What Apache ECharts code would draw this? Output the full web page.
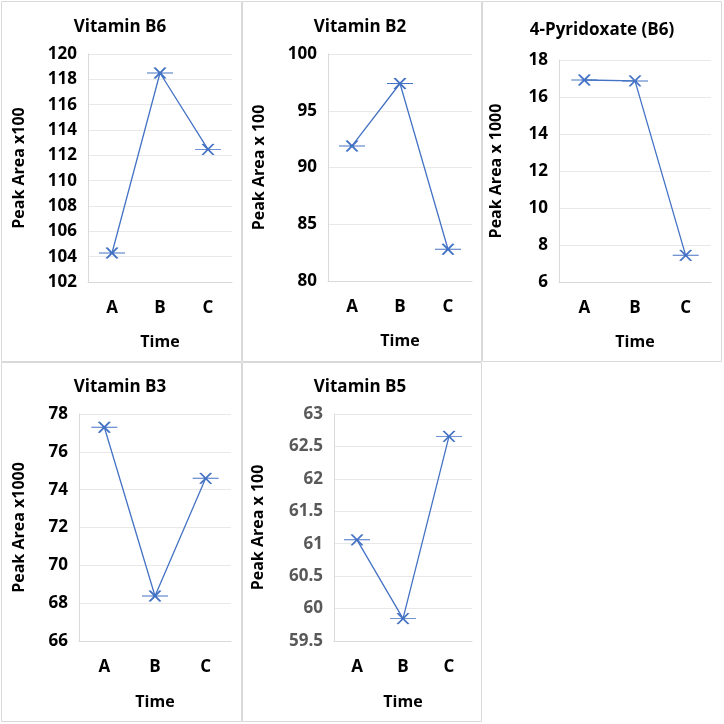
<!DOCTYPE html>
<html>
<head>
<meta charset="utf-8">
<script src="https://cdn.jsdelivr.net/npm/echarts@6/dist/echarts.min.js"></script>
<style>html,body{margin:0;padding:0;background:#fff}#c{width:724px;height:724px}</style>
</head>
<body>
<div id="c"></div>
<script>
const categories = ['A', 'B', 'C'];
const titles = ['Vitamin B6', 'Vitamin B2', '4-Pyridoxate (B6)', 'Vitamin B3', 'Vitamin B5'];
const yNames = ['Peak Area x100', 'Peak Area x 100', 'Peak Area x 1000', 'Peak Area x1000', 'Peak Area x 100'];
const xName = 'Time';
const vitB6 = [104.29, 118.5, 112.47];
const vitB2 = [91.9, 97.4, 82.8];
const pyridoxate = [16.92, 16.87, 7.44];
const vitB3 = [77.3, 68.38, 74.6];
const vitB5 = [61.06, 59.845, 62.655];
const yMin = [102, 80, 6, 66, 59.5];
const yMax = [120, 100, 18, 78, 63];
const yStep = [2, 5, 2, 2, 0.5];

const seriesData = [vitB6, vitB2, pyridoxate, vitB3, vitB5];

// layout
const grids = [
  {left: 88, top: 54, width: 144, height: 228},
  {left: 328, top: 54, width: 144, height: 227},
  {left: 559, top: 60, width: 152, height: 222},
  {left: 79, top: 414, width: 152, height: 227},
  {left: 334, top: 414, width: 138, height: 227}
];
const titlePos = [[120, 19], [360, 19], [602, 22], [120, 379], [360, 379]];
const yNameGap = [61, 61, 55, 52, 68];
const xNameGap = [52, 52, 52, 53, 53];
const tickColors = ['#000', '#000', '#000', '#000', '#595959'];
const borders = [
  [1.5, 1.5, 240, 360], [242.5, 1.5, 239, 360], [482.5, 1.5, 239, 360],
  [1.5, 362.5, 240, 359], [242.5, 362.5, 239, 359]
];

const FONT = '"Open Sans", sans-serif';
const blue = '#4472C4';
const markerPath = 'path://M0,5.5 L26,5.5 M7.5,0 L18.5,11 M7.5,11 L18.5,0';

const option = {
  backgroundColor: '#fff',
  animation: false,
  graphic: borders.map(b => ({
    type: 'rect', shape: {x: b[0], y: b[1], width: b[2], height: b[3]},
    style: {fill: 'none', stroke: '#d9d9d9', lineWidth: 1}, silent: true
  })),
  title: titles.map((t, i) => ({
    text: t, left: titlePos[i][0], top: titlePos[i][1], textAlign: 'center', padding: 0,
    textStyle: {fontFamily: FONT, fontWeight: 'bold', fontSize: 17, color: '#000'}
  })),
  grid: grids,
  xAxis: grids.map((g, i) => ({
    type: 'category', gridIndex: i, data: categories, boundaryGap: true,
    name: xName, nameLocation: 'middle', nameGap: xNameGap[i],
    nameTextStyle: {fontFamily: FONT, fontWeight: 'bold', fontSize: 16, color: '#000'},
    axisLine: {lineStyle: {color: '#d9d9d9', width: 1}},
    axisTick: {show: false},
    axisLabel: {fontFamily: FONT, fontWeight: 'bold', fontSize: 17, color: '#000', margin: 18},
    splitLine: {show: false}
  })),
  yAxis: grids.map((g, i) => ({
    type: 'value', gridIndex: i, min: yMin[i], max: yMax[i], interval: yStep[i],
    name: yNames[i], nameLocation: 'middle', nameGap: yNameGap[i], nameRotate: 90,
    nameTextStyle: {fontFamily: FONT, fontWeight: 'bold', fontSize: 16, color: '#000'},
    axisLine: {show: true, lineStyle: {color: '#d9d9d9', width: 1}},
    axisTick: {show: false},
    axisLabel: {fontFamily: FONT, fontWeight: 'bold', fontSize: 17, color: tickColors[i], margin: 11},
    splitLine: {show: true, lineStyle: {color: '#e8e8e8', width: 1}}
  })),
  series: seriesData.map((d, i) => ({
    type: 'line', xAxisIndex: i, yAxisIndex: i, data: d,
    symbol: markerPath, symbolSize: [26, 11], showAllSymbol: true,
    lineStyle: {color: blue, width: 1.3},
    itemStyle: {color: 'none', borderColor: blue, borderWidth: 1.5}
  }))
};

const chart = echarts.init(document.getElementById('c'), null, {renderer: 'canvas'});
chart.setOption(option);
</script>
</body>
</html>
